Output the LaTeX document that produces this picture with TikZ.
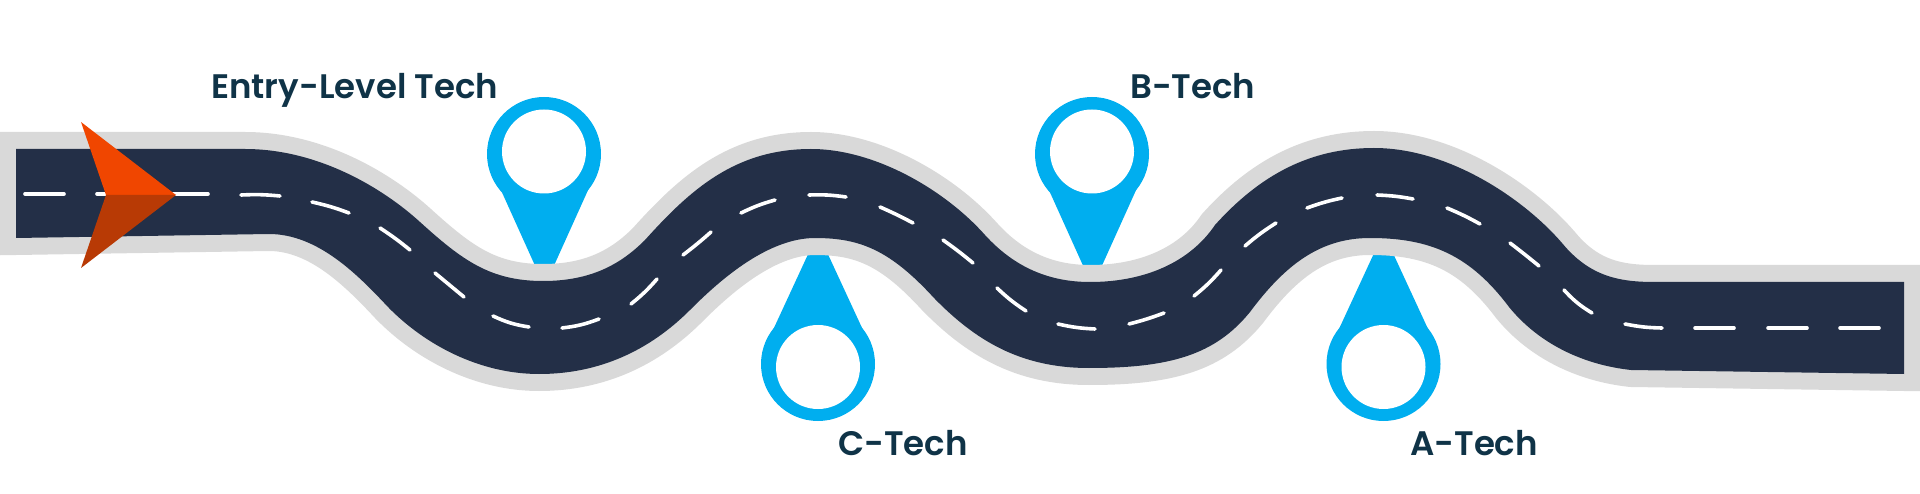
\documentclass[tikz,border=0pt]{standalone}
\usepackage{fontspec}
\setmainfont{Poppins}[UprightFont=* SemiBold]
\definecolor{roadc}{HTML}{232F47}
\definecolor{edgec}{HTML}{D9D9D9}
\definecolor{pinc}{HTML}{00AEEF}
\definecolor{textc}{HTML}{0F3347}
\definecolor{arrowa}{HTML}{F04600}
\definecolor{arrowb}{HTML}{B83A05}
\tikzset{
  label text/.style={anchor=base west,inner sep=0pt,text=textc,font=\fontsize{34}{34}\selectfont},
  dashline/.style={draw=white,line width=3.6pt,line cap=round},
}
\newcommand{\pindown}[2]{% pin above the road, centre x, centre y
  \fill[pinc] (#1-44,188) -- (#1-7,270) -- (#1+8,270) -- (#1+45,188) -- cycle;
  \fill[pinc] (#1,#2) circle[radius=57];
  \fill[pinc] (#1-44,188) -- (#1+45,188) -- (#1,160) -- cycle;
  \fill[white] (#1,#2-2.5) circle[radius=42];
}
\newcommand{\pinup}[2]{% pin below the road
  \fill[pinc] (#1-45,330) -- (#1-8,250) -- (#1+8,250) -- (#1+45,330) -- cycle;
  \fill[pinc] (#1,#2) circle[radius=57];
  \fill[white] (#1,#2+3) circle[radius=42];
}
\begin{document}
\begin{tikzpicture}[x=1pt,y=-1pt]
\useasboundingbox (0,0) rectangle (1920,494);
\clip (0,0) rectangle (1920,494);
\pindown{544}{154}
\pindown{1092}{154}
\pinup{818}{364}
\pinup{1383.5}{364}
\def\roadpath{
  (16,149) -- (245,149)
  .. controls (320,149) and (385,190) .. (420,222)
  .. controls (462,260) and (490,281) .. (543,281)
  .. controls (590,281) and (620,265) .. (645,240)
  .. controls (690,190) and (735,149) .. (811,149)
  .. controls (875,149) and (945,190) .. (985,235)
  .. controls (1015,268) and (1050,282) .. (1090,282)
  .. controls (1145,282) and (1190,262) .. (1215,225)
  .. controls (1260,175) and (1310,148) .. (1374,148)
  .. controls (1450,148) and (1525,200) .. (1562,243)
  .. controls (1590,277) and (1620,282) .. (1655,282)
  -- (1904,282) -- (1904,374) -- (1631,370)
  .. controls (1585,365) and (1540,345) .. (1509,307)
  .. controls (1470,255) and (1430,238) .. (1370,238)
  .. controls (1320,238) and (1285,265) .. (1250,312)
  .. controls (1215,355) and (1170,368) .. (1089,368)
  .. controls (1020,368) and (975,340) .. (934,298)
  .. controls (890,250) and (860,238) .. (815,238)
  .. controls (765,238) and (715,285) .. (690,310)
  .. controls (650,350) and (600,374) .. (539,374)
  .. controls (480,374) and (425,345) .. (388,307)
  .. controls (358,275) and (318,234) .. (269,234)
  -- (16,238) -- cycle}
\draw[edgec,line width=34pt,line join=miter] \roadpath;
\fill[roadc] \roadpath;
\foreach \xa/\ya/\xb/\yb/\bnd in {
  25/194/64/194/0, 97/194/136/194/0, 170/194/208/194/0,
  241/195/280/196/4, 312/202/349/213/4, 380/228/410/250/3, 435/273/464/297/0,
  493/316/529/327/-8, 562/328/599/319/-7, 631/304/657/279/-5, 683/255/711/232/-2,
  741/213/775/200/5, 809/195/846/197/5, 880/207/913/223/2, 943/240/973/263/2,
  997/288/1026/311/-5, 1058/324/1095/329/-5, 1129/324/1164/313/-3, 1194/296/1221/270/-5,
  1245/246/1276/223/4, 1307/208/1342/198/4, 1377/195/1413/199/4, 1447/208/1480/224/3,
  1510/243/1539/266/1, 1564/290/1592/313/-8, 1625/324/1662/328/-5,
  1695/328/1734/328/0, 1768/328/1807/328/0, 1840/328/1879/328/0}{
  \coordinate (da) at (\xa,\ya);
  \coordinate (db) at (\xb,\yb);
  \draw[dashline] (da) to[bend left=\bnd] (db);
}
\fill[arrowa] (81,122) -- (106,195) -- (176,195) -- cycle;
\fill[arrowb] (81,268) -- (106,195) -- (176,195) -- cycle;
\node[label text] (entry) at (211,99) {Entry-Level Tech};
\node[label text] (btech) at (1130,99) {B-Tech};
\node[label text] (ctech) at (838,455) {C-Tech};
\node[label text] (atech) at (1410,455) {A-Tech};
\end{tikzpicture}
\end{document}
